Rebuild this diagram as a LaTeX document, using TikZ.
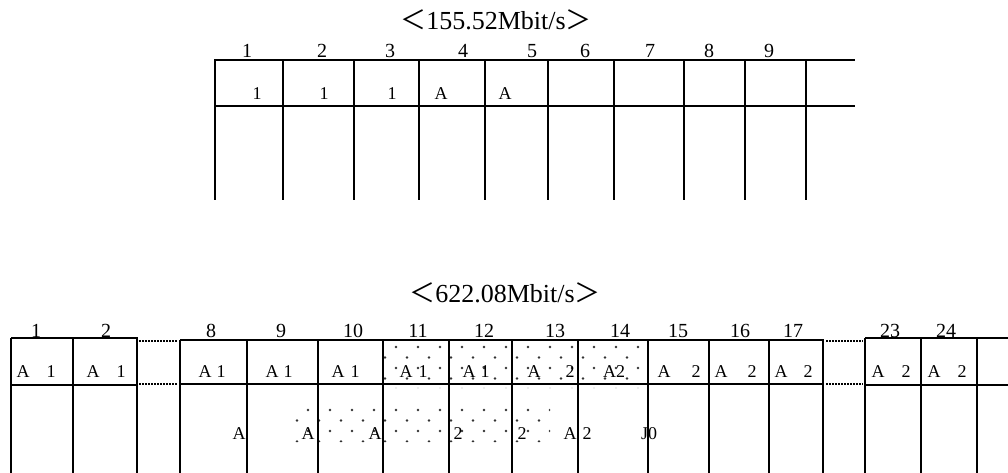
\documentclass[tikz,border=0pt]{standalone}
\usepackage{fontspec}
\setmainfont{Liberation Serif}
\newfontfamily\cjk{Noto Sans CJK JP}
\usetikzlibrary{patterns}
% stipple used for the shifted bytes
\pgfdeclarepatternformonly{stipple}{\pgfqpoint{-2pt}{-2pt}}{\pgfqpoint{24pt}{23pt}}{\pgfqpoint{22pt}{21pt}}{%
  \pgfpathcircle{\pgfqpoint{0pt}{0pt}}{1.3pt}%
  \pgfpathcircle{\pgfqpoint{11pt}{10.5pt}}{1.3pt}%
  \pgfusepath{fill}}
\tikzset{
  rule/.style={line width=2.2pt},
  gap/.style={line width=1.5pt, dash pattern=on 1.5pt off 1.5pt},
  num/.style={anchor=base, inner sep=0pt, font=\fontsize{20}{22}\selectfont},
  lab/.style={anchor=base, inner sep=0pt, font=\fontsize{18}{20}\selectfont},
  rate/.style={anchor=base, inner sep=0pt, font=\fontsize{26}{30}\selectfont},
}

\begin{document}
\begin{tikzpicture}[x=1pt,y=-1pt]
\useasboundingbox (0,0) rectangle (1008,473);
% 155.52Mbit/s
\node[rate] (rateA) at (496,30) {{\cjk ＜}155.52Mbit/s{\cjk ＞}};
\draw[rule] (214,60) -- (855,60) (214,106) -- (855,106);
\foreach \x in {215,283,354,419,485,548,614,684,745,806} \draw[rule] (\x,60) -- (\x,200);
\foreach \x/\n in {247/1,322/2,390/3,463/4,532/5,585/6,650/7,709/8,769/9} \node[num] (top\n) at (\x,58) {\n};
\foreach \x/\t [count=\i] in {257/1,324/1,392/1,441/A,505/A} \node[lab] (topa\i) at (\x,100) {\t};

% 622.08Mbit/s
\node[rate] (rateB) at (505,302) {{\cjk ＜}622.08Mbit/s{\cjk ＞}};
\fill[pattern=stipple, pattern color=black!80] (384,341) rectangle (648,388) (288,402) rectangle (550,442);
% left block
\draw[rule] (11,338) -- (138,338) (11,385) -- (138,385);
\foreach \x in {11,73,137} \draw[rule] (\x,338) -- (\x,473);
\draw[gap] (139,341) -- (178,341) (139,384) -- (178,384);
% middle block
\draw[rule] (180,340) -- (824,340) (180,384) -- (824,384);
\foreach \x in {180,247,318,383,449,512,578,648,709,769,823} \draw[rule] (\x,340) -- (\x,473);
\draw[gap] (826,341) -- (863,341) (826,384) -- (863,384);
% right block
\draw[rule] (865,338) -- (1008,338) (865,385) -- (1008,385);
\foreach \x in {865,921,977} \draw[rule] (\x,338) -- (\x,473);
\foreach \x/\n in {36/1,106/2,211/8,281/9,353/10,418/11,484/12,555/13,620/14,678/15,740/16,793/17,890/23,946/24} \node[num] (bot\n) at (\x,337) {\n};
\foreach \x/\t [count=\i] in {23/A,51/1,93/A,121/1,205/A,221/1,272/A,288/1,338/A,355/1,406/A,423/1,469/A,485/1,534/A,570/2,614/A2,664/A,696/2,721/A,752/2,781/A,808/2,878/A,906/2,934/A,962/2}
  \node[lab] (bota\i) at (\x,377) {\t};
\foreach \x/\t [count=\i] in {239/A,308/A,375/A,458/2,522/2,570/A,587/2,649/J0}
  \node[lab] (botb\i) at (\x,439) {\t};
\end{tikzpicture}
\end{document}
